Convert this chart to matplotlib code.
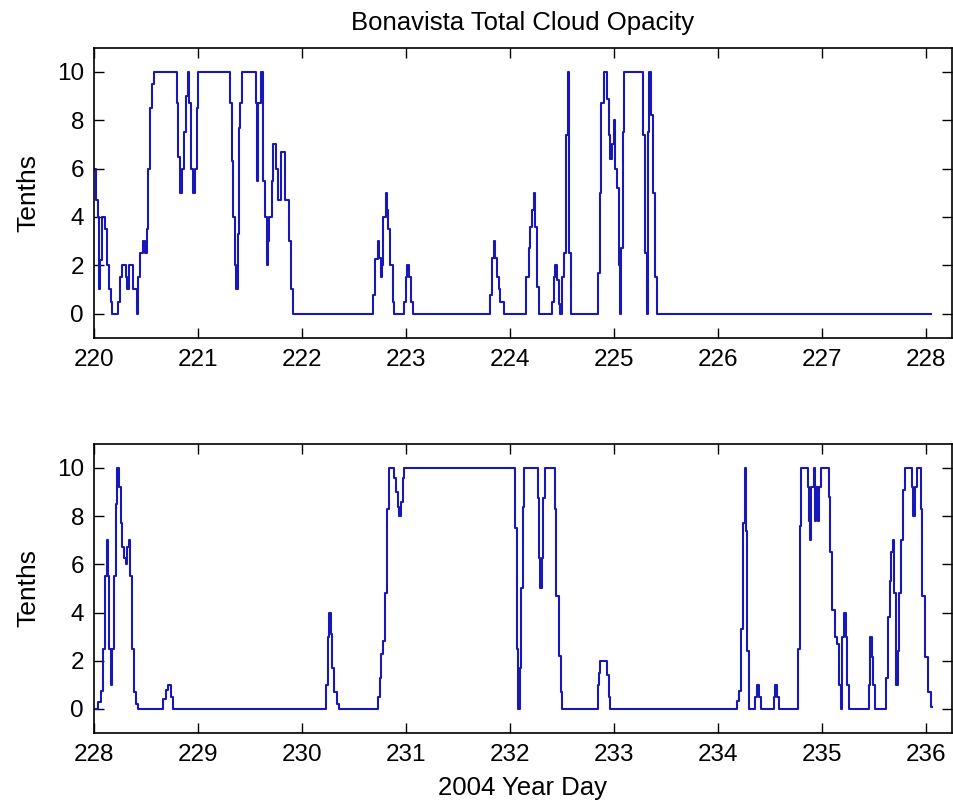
import matplotlib

matplotlib.use("Agg")
import matplotlib.pyplot as plt

# Bonavista total cloud opacity (tenths) vs 2004 year day.
TOP_DAY = [220.000, 220.022, 220.045, 220.055, 220.065, 220.077, 220.109, 220.125,
           220.151, 220.163, 220.173, 220.237, 220.253, 220.269, 220.311, 220.324,
           220.343, 220.381, 220.413, 220.429, 220.446, 220.471, 220.494, 220.510,
           220.526, 220.542, 220.558, 220.580, 220.804, 220.814, 220.830, 220.853,
           220.865, 220.885, 220.904, 220.920, 220.936, 220.955, 220.978, 220.990,
           221.006, 221.311, 221.327, 221.343, 221.359, 221.369, 221.385, 221.397,
           221.407, 221.423, 221.558, 221.570, 221.583, 221.606, 221.631, 221.647,
           221.663, 221.673, 221.689, 221.712, 221.728, 221.753, 221.776, 221.798,
           221.840, 221.875, 221.897, 221.913,
           222.689, 222.705, 222.728, 222.740, 222.757, 222.769, 222.785, 222.805,
           222.817, 222.830, 222.849, 222.872, 222.891, 222.978, 222.997, 223.016,
           223.029, 223.048, 223.067, 223.811, 223.827, 223.843, 223.859, 223.875,
           223.891, 223.907, 223.939,
           224.157, 224.179, 224.195, 224.211, 224.228, 224.240, 224.260, 224.282,
           224.404, 224.420, 224.436, 224.452, 224.468, 224.484, 224.500, 224.516,
           224.538, 224.560, 224.570, 224.590, 224.846, 224.862, 224.878, 224.901,
           224.933, 224.952, 224.965, 224.981, 224.997, 225.013, 225.029, 225.045,
           225.061, 225.070, 225.083, 225.099, 225.279, 225.301, 225.317, 225.327,
           225.340, 225.356, 225.375, 225.394, 225.414, 228.050]
TOP_VAL = [6, 4.7, 4, 1, 2.2, 4, 3.5, 2,
           1, 0.5, 0, 0.5, 1.5, 2, 1.5, 1,
           2, 1, 0, 1.5, 2.5, 3, 2.5, 3.5,
           6, 8.5, 9.5, 10, 8.7, 6.5, 5, 6,
           7.5, 9, 10, 8.7, 6, 5, 6, 8.5,
           10, 8.7, 6.3, 4, 2, 1, 3.3, 7.7,
           8.7, 10, 8.7, 5.5, 8.7, 10, 5.5, 4,
           2, 3, 4, 5.5, 7, 6, 4.7, 6.7,
           4.7, 3, 1, 0,
           0.75, 2.25, 3, 2.3, 1.5, 2, 4, 5,
           4.3, 3.5, 2, 0.5, 0, 0.5, 1.5, 2,
           1.5, 0.5, 0, 0.75, 2.3, 3, 2.3, 1.5,
           1, 0.5, 0,
           1.5, 2.7, 3.6, 4.3, 5, 3.6, 1.1, 0,
           0.5, 1.5, 2, 1.4, 0.4, 0, 1.5, 2.5,
           7.4, 10, 2.5, 0, 1.7, 5, 8.7, 10,
           8.9, 7.4, 6.4, 7, 8, 6, 5.2, 2,
           0, 2.7, 7.5, 10, 7.4, 2.5, 0, 7.5,
           10, 8.2, 5, 1.5, 0, 0]

BOT_DAY = [228.000, 228.045, 228.067, 228.087, 228.109, 228.125, 228.141, 228.151,
           228.167, 228.179, 228.196, 228.212, 228.228, 228.240, 228.260, 228.276,
           228.295, 228.308, 228.324, 228.343, 228.353, 228.365, 228.388, 228.407,
           228.429, 228.670, 228.696, 228.718, 228.744, 228.766,
           230.234, 230.250, 230.266, 230.279, 230.295, 230.314, 230.337, 230.356,
           230.728, 230.747, 230.763, 230.779, 230.801, 230.817, 230.837, 230.885,
           230.901, 230.920, 230.936, 230.952, 230.968, 230.987,
           232.051, 232.066, 232.082, 232.093, 232.106, 232.122, 232.140, 232.266,
           232.276, 232.292, 232.308, 232.317, 232.333, 232.436, 232.445, 232.468,
           232.487, 232.503, 232.843, 232.853, 232.869, 232.933, 232.949, 232.965,
           234.183, 234.205, 234.221, 234.240, 234.256, 234.266, 234.279, 234.298,
           234.359, 234.375, 234.391, 234.417, 234.535, 234.550, 234.566, 234.583,
           234.769, 234.785, 234.800, 234.862, 234.872, 234.881, 234.897, 234.920,
           234.930, 234.945, 234.960, 234.975, 234.990, 235.064, 235.075, 235.100,
           235.120, 235.140, 235.160, 235.180, 235.195, 235.208, 235.227, 235.240,
           235.259, 235.449, 235.465, 235.478, 235.490, 235.505, 235.615, 235.631,
           235.651, 235.667, 235.680, 235.695, 235.712, 235.727, 235.743, 235.758,
           235.780, 235.800, 235.860, 235.875, 235.890, 235.910, 235.950, 235.965,
           235.990, 236.020, 236.050, 236.060]
BOT_VAL = [0, 0.3, 0.75, 2.5, 5.5, 7, 5.5, 2.5,
           1, 2.5, 5.5, 8.5, 10, 9.2, 7.7, 6.7,
           6.25, 6, 6.7, 7, 5.5, 2.5, 0.7, 0.2,
           0, 0.4, 0.8, 1, 0.5, 0,
           1, 3, 4, 3.1, 1.7, 0.7, 0.2, 0,
           0.5, 1.3, 2.3, 2.8, 4.8, 8.3, 10, 9.6,
           9, 8.4, 8, 8.6, 9.6, 10,
           7.5, 2.5, 0, 1.7, 5, 8.4, 10, 8.75,
           6.25, 5, 6.25, 8.75, 10, 8.3, 4.7, 2.2,
           0.7, 0, 1, 1.5, 2, 1.4, 0.5, 0,
           0.35, 0.75, 3.3, 7.7, 10, 7.4, 2.4, 0,
           0.5, 1, 0.5, 0, 0.5, 1, 0.5, 0,
           2.5, 7.6, 10, 9.2, 7.8, 7, 9.2, 10,
           7.8, 9.2, 7.8, 9.2, 10, 8.8, 6.5, 4.1,
           3, 2.7, 1, 0, 3, 4, 3, 1,
           0, 1, 3, 2.15, 1, 0, 1.3, 3.8,
           5.3, 6.5, 7, 4.8, 1, 2.4, 4.8, 7,
           9.1, 10, 9.2, 8, 9.2, 10, 8.3, 4.7,
           2.15, 0.7, 0.1, 0.1]

TOP_XTICKS = list(range(220, 229))
BOT_XTICKS = list(range(228, 237))
YTICKS = [0, 2, 4, 6, 8, 10]

FONT = "Liberation Sans"
LINE_COLOR = "#1818b8"


def style_axes(ax, xticks, xlim):
    ax.set_xlim(*xlim)
    ax.set_ylim(-1, 11)
    ax.set_xticks(xticks)
    ax.set_yticks(YTICKS)
    ax.tick_params(direction="in", length=7, width=1, top=True, right=True,
                   labelsize=17.5)
    ax.tick_params(axis="x", pad=8)
    ax.tick_params(axis="y", pad=7)
    for sp in ax.spines.values():
        sp.set_linewidth(1.2)
    ax.set_ylabel("Tenths", fontsize=19, labelpad=12)


def main():
    plt.rcParams["font.family"] = FONT
    fig = plt.figure(figsize=(9.54, 8.10), dpi=100)
    ax1 = fig.add_axes([0.0982, 0.583, 0.8998, 0.358])
    ax2 = fig.add_axes([0.0982, 0.095, 0.8998, 0.357])

    ax1.plot(TOP_DAY, TOP_VAL, color=LINE_COLOR, lw=1.5, drawstyle="steps-post")
    ax2.plot(BOT_DAY, BOT_VAL, color=LINE_COLOR, lw=1.5, drawstyle="steps-post")

    style_axes(ax1, TOP_XTICKS, (220, 228.25))
    style_axes(ax2, BOT_XTICKS, (228, 236.25))

    ax1.set_title("Bonavista Total Cloud Opacity", fontsize=18.5, pad=13)
    ax2.set_xlabel("2004 Year Day", fontsize=18.5, labelpad=7)

    fig.savefig("out.png", dpi=100)


if __name__ == "__main__":
    main()
